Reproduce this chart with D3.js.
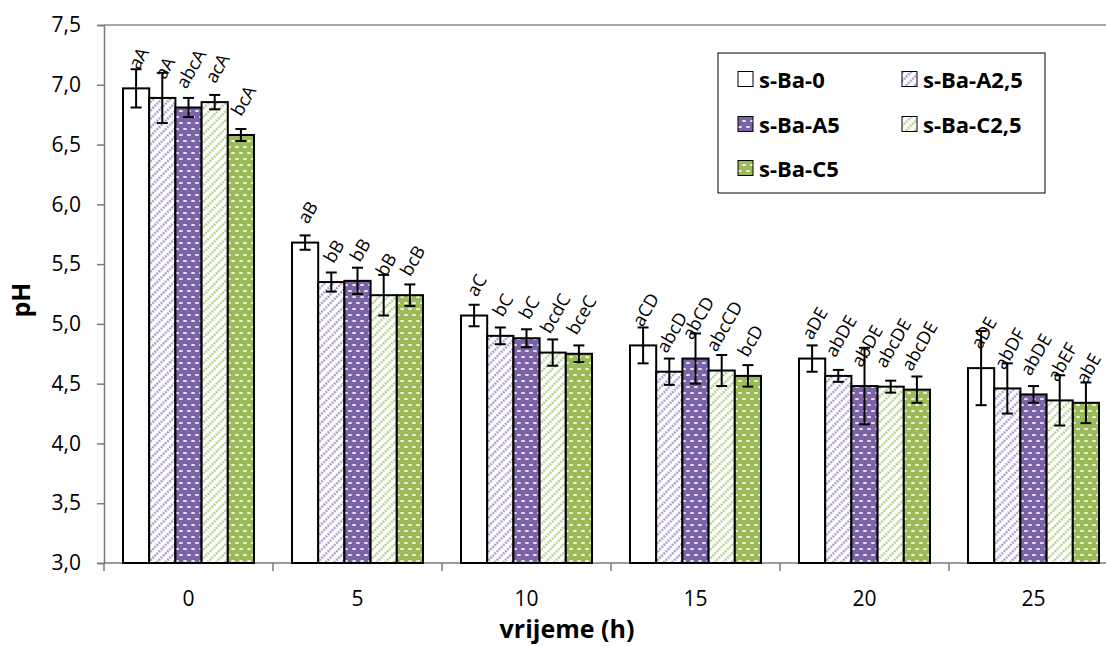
<!DOCTYPE html>
<html>
<head>
<meta charset="utf-8">
<script src="https://cdn.jsdelivr.net/npm/d3@7"></script>
<style>
  html, body { margin: 0; padding: 0; background: #fff; }
  svg { display: block; }
  text { font-family: "Open Sans", "Liberation Sans", sans-serif; fill: #000; }
</style>
</head>
<body>
<svg id="chart" width="1106" height="646"></svg>
<script>
// ---------------- data ----------------
const categories = ["0", "5", "10", "15", "20", "25"];
const seriesNames = ["s-Ba-0", "s-Ba-A2,5", "s-Ba-A5", "s-Ba-C2,5", "s-Ba-C5"];

const valuesBa0   = [6.97, 5.68, 5.07, 4.82, 4.71, 4.63];
const valuesBaA25 = [6.89, 5.35, 4.90, 4.60, 4.565, 4.46];
const valuesBaA5  = [6.81, 5.36, 4.88, 4.71, 4.48, 4.41];
const valuesBaC25 = [6.855, 5.24, 4.76, 4.61, 4.475, 4.36];
const valuesBaC5  = [6.58, 5.24, 4.75, 4.565, 4.45, 4.34];

const errorsBa0   = [0.16, 0.06, 0.09, 0.15, 0.11, 0.31];
const errorsBaA25 = [0.21, 0.08, 0.07, 0.11, 0.05, 0.21];
const errorsBaA5  = [0.08, 0.11, 0.075, 0.21, 0.32, 0.07];
const errorsBaC25 = [0.06, 0.17, 0.11, 0.13, 0.05, 0.21];
const errorsBaC5  = [0.05, 0.09, 0.07, 0.09, 0.11, 0.17];

const labelsBa0   = ["aA", "aB", "aC", "aCD", "aDE", "aDE"];
const labelsBaA25 = ["aA", "bB", "bC", "abcD", "abDE", "abDF"];
const labelsBaA5  = ["abcA", "bB", "bC", "abCD", "abDE", "abDE"];
const labelsBaC25 = ["acA", "bB", "bcdC", "abcCD", "abcDE", "abEF"];
const labelsBaC5  = ["bcA", "bcB", "bceC", "bcD", "abcDE", "abE"];

const yTickValues = [3.0, 3.5, 4.0, 4.5, 5.0, 5.5, 6.0, 6.5, 7.0, 7.5];
const yTickLabels = ["3,0", "3,5", "4,0", "4,5", "5,0", "5,5", "6,0", "6,5", "7,0", "7,5"];
const xTitle = "vrijeme (h)";
const yTitle = "pH";

// ---------------- build ----------------
const seriesValues = [valuesBa0, valuesBaA25, valuesBaA5, valuesBaC25, valuesBaC5];
const seriesErrors = [errorsBa0, errorsBaA25, errorsBaA5, errorsBaC25, errorsBaC5];
const seriesLabels = [labelsBa0, labelsBaA25, labelsBaA5, labelsBaC25, labelsBaC5];
const fills = ["#ffffff", "url(#hatchPurple)", "url(#dotPurple)", "url(#hatchGreen)", "url(#dotGreen)"];

const svg = d3.select("#chart");
const plot = { left: 104, right: 1118, top: 25, bottom: 563 };

const x0 = d3.scaleBand().domain(categories)
  .range([plot.left, plot.right]).paddingInner(38 / 169).paddingOuter(19 / 169);
const x1 = d3.scaleBand().domain(seriesNames).range([0, x0.bandwidth()]).padding(0);
const y = d3.scaleLinear().domain([3, 7.5]).range([plot.bottom, plot.top]);

// patterns
const defs = svg.append("defs");
function hatch(id, color) {
  const p = defs.append("pattern").attr("id", id).attr("patternUnits", "userSpaceOnUse")
    .attr("width", 6).attr("height", 6).attr("patternTransform", "rotate(45)");
  p.append("rect").attr("width", 6).attr("height", 6).attr("fill", "#fff");
  p.append("line").attr("x1", 1.5).attr("y1", 0).attr("x2", 1.5).attr("y2", 6)
    .attr("stroke", color).attr("stroke-width", 2.2).attr("stroke-dasharray", "2,1");
}
function dots(id, color) {
  const p = defs.append("pattern").attr("id", id).attr("patternUnits", "userSpaceOnUse")
    .attr("width", 8).attr("height", 12);
  p.append("rect").attr("width", 8).attr("height", 12).attr("fill", color);
  [[2, 3], [6, 9]].forEach(([cx, cy]) => {
    p.append("ellipse").attr("cx", cx).attr("cy", cy).attr("rx", 2.1).attr("ry", 1.1)
      .attr("fill", "#fff").attr("fill-opacity", 0.85);
  });
}
hatch("hatchPurple", "#a290c9");
hatch("hatchGreen", "#adc97c");
dots("dotPurple", "#7c62a6");
dots("dotGreen", "#9bbb59");

// plot border (top) and axes
svg.append("line").attr("x1", plot.left).attr("x2", plot.right)
  .attr("y1", plot.top).attr("y2", plot.top).attr("stroke", "#8a8a8a").attr("stroke-width", 1.5);

const yAxis = d3.axisLeft(y).tickValues(yTickValues)
  .tickFormat((d, i) => yTickLabels[i]).tickSize(7).tickPadding(16);
const yG = svg.append("g").attr("transform", `translate(${plot.left},0)`).call(yAxis);
yG.select(".domain").attr("stroke", "#7a7a7a").attr("stroke-width", 1.5);
yG.selectAll(".tick line").attr("stroke", "#7a7a7a").attr("stroke-width", 1.5);
yG.selectAll(".tick text").style("font-size", "21px").style("font-family", "'Open Sans', sans-serif");

// x axis: ticks at band boundaries
const xG = svg.append("g");
xG.append("line").attr("x1", plot.left).attr("x2", plot.right)
  .attr("y1", plot.bottom).attr("y2", plot.bottom).attr("stroke", "#7a7a7a").attr("stroke-width", 1.5);
const boundaries = categories.map(c => x0(c) - x0.step() * x0.paddingOuter()).concat([plot.right]);
xG.selectAll("line.xt").data(boundaries).join("line").attr("class", "xt")
  .attr("x1", d => d).attr("x2", d => d).attr("y1", plot.bottom).attr("y2", plot.bottom + 8)
  .attr("stroke", "#7a7a7a").attr("stroke-width", 1.5);
xG.selectAll("text.xl").data(categories).join("text").attr("class", "xl")
  .attr("x", d => x0(d) + x0.bandwidth() / 2).attr("y", 606)
  .attr("text-anchor", "middle").style("font-size", "21px").text(d => d);

// bars
const groups = svg.append("g").selectAll("g").data(categories).join("g")
  .attr("transform", d => `translate(${x0(d)},0)`);

const barData = (c, ci) => seriesNames.map((s, si) => ({
  s, si, v: seriesValues[si][ci], e: seriesErrors[si][ci], lab: seriesLabels[si][ci]
}));

groups.each(function (c, ci) {
  const g = d3.select(this);
  const data = barData(c, ci);
  g.selectAll("rect").data(data).join("rect")
    .attr("x", d => x1(d.s)).attr("width", x1.bandwidth())
    .attr("y", d => y(d.v)).attr("height", d => y(3) - y(d.v))
    .attr("fill", d => fills[d.si]).attr("stroke", "#000").attr("stroke-width", 2);
  // error bars
  const eb = g.selectAll("g.err").data(data).join("g").attr("class", "err")
    .attr("stroke", "#000").attr("stroke-width", 2);
  eb.append("line").attr("x1", d => x1(d.s) + x1.bandwidth() / 2).attr("x2", d => x1(d.s) + x1.bandwidth() / 2)
    .attr("y1", d => y(d.v + d.e)).attr("y2", d => y(d.v - d.e));
  eb.append("line").attr("x1", d => x1(d.s) + x1.bandwidth() / 2 - 5.5).attr("x2", d => x1(d.s) + x1.bandwidth() / 2 + 5.5)
    .attr("y1", d => y(d.v + d.e)).attr("y2", d => y(d.v + d.e));
  eb.append("line").attr("x1", d => x1(d.s) + x1.bandwidth() / 2 - 5.5).attr("x2", d => x1(d.s) + x1.bandwidth() / 2 + 5.5)
    .attr("y1", d => y(d.v - d.e)).attr("y2", d => y(d.v - d.e));
  // labels
  const ang = 60 * Math.PI / 180;
  g.selectAll("text.lab").data(data).join("text").attr("class", "lab")
    .style("font-size", "18px").attr("text-anchor", "middle").attr("dominant-baseline", "central")
    .text(d => d.lab)
    .attr("transform", function (d) {
      const L = this.getComputedTextLength();
      const H = 13;
      const h = L * Math.sin(ang) + H * Math.cos(ang);
      const cx = x1(d.s) + x1.bandwidth() / 2 + 2;
      const cy = y(d.v) - 18 - h / 2;
      return `translate(${cx},${cy}) rotate(-60)`;
    });
});

// axis titles
svg.append("text").attr("x", 567).attr("y", 638).attr("text-anchor", "middle")
  .style("font-size", "25px").style("font-weight", "bold").text(xTitle);
svg.append("text").attr("transform", "translate(30,300) rotate(-90)").attr("text-anchor", "middle")
  .style("font-size", "25px").style("font-weight", "bold").text(yTitle);

// legend
const legend = svg.append("g");
legend.append("rect").attr("x", 718).attr("y", 53).attr("width", 327).attr("height", 140)
  .attr("fill", "#fff").attr("stroke", "#000").attr("stroke-width", 1);
const legPos = [[738, 79], [902, 79], [738, 124], [902, 124], [738, 168]];
const li = legend.selectAll("g.li").data(seriesNames).join("g").attr("class", "li")
  .attr("transform", (d, i) => `translate(${legPos[i][0]},${legPos[i][1]})`);
li.append("rect").attr("x", 0).attr("y", -7.5).attr("width", 15).attr("height", 15)
  .attr("fill", (d, i) => fills[i]).attr("stroke", "#000").attr("stroke-width", 1);
li.append("text").attr("x", 21).attr("y", 0).attr("dominant-baseline", "central")
  .style("font-size", "22px").style("font-weight", "bold").text(d => d);
</script>
</body>
</html>
